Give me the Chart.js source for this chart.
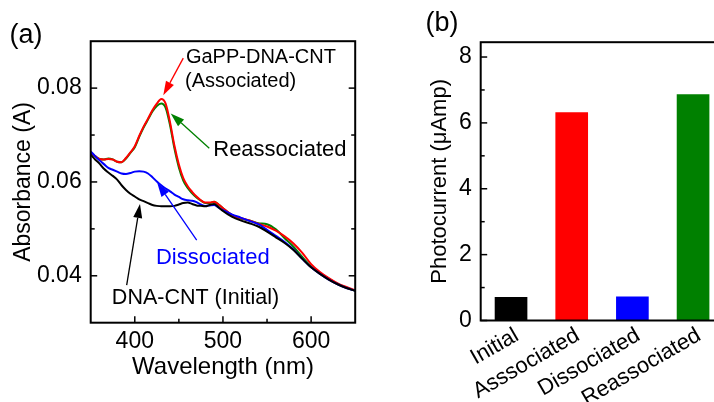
<!DOCTYPE html>
<html>
<head>
<meta charset="utf-8">
<script src="https://cdn.jsdelivr.net/npm/chart.js@4"></script>
<style>
  html, body { margin: 0; padding: 0; width: 714px; height: 402px; overflow: hidden; background: #fff; }
  #wrapA { position: absolute; left: 0; top: 0; width: 400px; height: 402px; }
  #wrapB { position: absolute; left: 400px; top: 0; width: 340px; height: 402px; }
  canvas { display: block; }
</style>
</head>
<body>
<div id="wrapA"><canvas id="absorb" width="400" height="402"></canvas></div>
<div id="wrapB"><canvas id="photo" width="340" height="402"></canvas></div>
<script>
// ---- (a) UV-vis absorbance spectra ----
const wavelength = [350, 355, 360, 365, 370, 375, 380, 385, 390, 395, 400, 405, 410, 415, 420, 425, 430, 435, 440, 445,
  450, 455, 460, 465, 470, 475, 480, 485, 490, 495, 500, 510, 520, 530, 540, 550, 560, 570, 580, 590,
  600, 610, 620, 630, 640, 650];

const initialAbs = [0.0658, 0.0648, 0.0639, 0.0628, 0.0620, 0.0613, 0.0605, 0.0593, 0.0583, 0.0575, 0.0569, 0.0563,
  0.0559, 0.0555, 0.0551, 0.0549, 0.0548, 0.0548, 0.0548, 0.0549, 0.0552, 0.0555, 0.0556, 0.0553, 0.0550, 0.0549,
  0.0548, 0.0551, 0.0553, 0.0546, 0.0538, 0.0526, 0.0518, 0.0512, 0.0505, 0.0494, 0.0482, 0.0470, 0.0455, 0.0436,
  0.0418, 0.0404, 0.0392, 0.0382, 0.0374, 0.0368];

const dissociatedAbs = [0.0665, 0.0655, 0.0646, 0.0638, 0.0630, 0.0626, 0.0622, 0.0618, 0.0617, 0.0619, 0.0622, 0.0623,
  0.0622, 0.0618, 0.0610, 0.0601, 0.0593, 0.0586, 0.0580, 0.0573, 0.0568, 0.0563, 0.0561, 0.0560, 0.0557, 0.0552,
  0.0549, 0.0550, 0.0551, 0.0545, 0.0540, 0.0531, 0.0524, 0.0517, 0.0510, 0.0498, 0.0485, 0.0472, 0.0456, 0.0436,
  0.0418, 0.0404, 0.0392, 0.0382, 0.0374, 0.0368];

const associatedAbs = [0.0662, 0.0655, 0.0649, 0.0648, 0.0649, 0.0648, 0.0643, 0.0642, 0.0651, 0.0663, 0.0676, 0.0698,
  0.0718, 0.0735, 0.0753, 0.0767, 0.0777, 0.0767, 0.0727, 0.0677, 0.0637, 0.0608, 0.0591, 0.0579, 0.0569, 0.0561,
  0.0556, 0.0556, 0.0558, 0.0552, 0.0544, 0.0530, 0.0523, 0.0518, 0.0511, 0.0505, 0.0496, 0.0484, 0.0469, 0.0449,
  0.0425, 0.0408, 0.0395, 0.0384, 0.0376, 0.0369];

const reassociatedAbs = [0.0661, 0.0655, 0.0649, 0.0648, 0.0650, 0.0648, 0.0643, 0.0642, 0.0650, 0.0662, 0.0674, 0.0696,
  0.0716, 0.0733, 0.0750, 0.0762, 0.0767, 0.0758, 0.0721, 0.0671, 0.0631, 0.0603, 0.0587, 0.0576, 0.0567, 0.0560,
  0.0555, 0.0555, 0.0558, 0.0552, 0.0544, 0.0530, 0.0522, 0.0518, 0.0512, 0.0510, 0.0499, 0.0480, 0.0462, 0.0440,
  0.0420, 0.0406, 0.0394, 0.0383, 0.0375, 0.0368];

const wavelengthTicks = [400, 500, 600];
const absorbanceTicks = [0.04, 0.06, 0.08];

// ---- (b) photocurrent per state ----
const sampleStates = ['Initial', 'Asssociated', 'Dissociated', 'Reassociated'];
const photocurrent = [0.70, 6.31, 0.72, 6.86];
const stateColors = ['#000000', '#FF0000', '#0000FF', '#008000'];
const currentTicks = [0, 2, 4, 6, 8];

const FONT = '"Liberation Sans", Arial, Helvetica, sans-serif';
Chart.defaults.font.family = FONT;
Chart.defaults.color = '#000';
Chart.defaults.animation = false;

// Box frame plus inward major/minor tick marks
const frameTicks = {
  id: 'frameTicks',
  afterDraw(chart, args, opts) {
    const { ctx, chartArea: a } = chart;
    ctx.save();
    ctx.strokeStyle = '#000';
    ctx.lineWidth = 1.5;
    for (const spec of opts.marks || []) {
      const scale = chart.scales[spec.scale];
      const major = scale.ticks.map(t => t.value);
      const minor = [];
      for (let i = 0; i < major.length - 1; i++) minor.push((major[i] + major[i + 1]) / 2);
      const draw = (vals, len) => {
        for (const v of vals) {
          const p = scale.getPixelForValue(v);
          for (const side of spec.sides) {
            ctx.beginPath();
            if (side === 'left') { ctx.moveTo(a.left, p); ctx.lineTo(a.left + len, p); }
            if (side === 'right') { ctx.moveTo(a.right, p); ctx.lineTo(a.right - len, p); }
            if (side === 'bottom') { ctx.moveTo(p, a.bottom); ctx.lineTo(p, a.bottom - len); }
            ctx.stroke();
          }
        }
      };
      draw(major, 6.5);
      draw(minor, 4);
    }
    ctx.lineWidth = 2;
    ctx.strokeRect(a.left, a.top, a.right - a.left, a.bottom - a.top);
    ctx.restore();
  }
};

// Panel letters, arrows and curve labels
const callouts = {
  id: 'callouts',
  afterDraw(chart, args, opts) {
    const { ctx } = chart;
    ctx.save();
    if (opts.tag) {
      ctx.font = `27px ${FONT}`;
      ctx.fillStyle = '#000';
      ctx.textAlign = 'center';
      ctx.textBaseline = 'middle';
      ctx.fillText(opts.tag.text, opts.tag.x, opts.tag.y);
    }
    const xs = chart.scales.x, ys = chart.scales.y;
    const px = p => [xs.getPixelForValue(p[0]), ys.getPixelForValue(p[1])];
    for (const ar of opts.arrows || []) {
      const [x0, y0] = px(ar.from), [x1, y1] = px(ar.to);
      const ang = Math.atan2(y1 - y0, x1 - x0);
      const L = 14, W = 4.5;
      const bx = x1 - L * Math.cos(ang), by = y1 - L * Math.sin(ang);
      ctx.strokeStyle = ar.color;
      ctx.fillStyle = ar.color;
      ctx.lineWidth = 1.3;
      ctx.beginPath(); ctx.moveTo(x0, y0); ctx.lineTo(bx, by); ctx.stroke();
      ctx.beginPath();
      ctx.moveTo(x1, y1);
      ctx.lineTo(bx + W * Math.sin(ang), by - W * Math.cos(ang));
      ctx.lineTo(bx - W * Math.sin(ang), by + W * Math.cos(ang));
      ctx.closePath(); ctx.fill();
    }
    for (const n of opts.labels || []) {
      const [x, y] = px(n.at);
      ctx.font = `${n.size}px ${FONT}`;
      ctx.fillStyle = n.color;
      ctx.textAlign = 'left';
      ctx.textBaseline = 'middle';
      ctx.fillText(n.text, x, y);
    }
    ctx.restore();
  }
};

const toPoints = arr => wavelength.map((w, i) => ({ x: w, y: arr[i] }));
const spectrum = (label, arr, color) => ({
  label, data: toPoints(arr), borderColor: color, backgroundColor: color,
  borderWidth: 2, pointRadius: 0, cubicInterpolationMode: 'monotone', fill: false
});

new Chart(document.getElementById('absorb'), {
  type: 'line',
  data: {
    datasets: [
      spectrum('DNA-CNT (Initial)', initialAbs, '#000000'),
      spectrum('Dissociated', dissociatedAbs, '#0000FF'),
      spectrum('GaPP-DNA-CNT (Associated)', associatedAbs, '#FF0000'),
      spectrum('Reassociated', reassociatedAbs, '#008000')
    ]
  },
  options: {
    responsive: false,
    animation: false,
    layout: { padding: { top: 41.2, right: 44.8, left: 0, bottom: 0 } },
    plugins: {
      legend: { display: false },
      tooltip: { enabled: false },
      frameTicks: { marks: [{ scale: 'y', sides: ['left', 'right'] }, { scale: 'x', sides: ['bottom'] }] },
      callouts: {
        tag: { text: '(a)', x: 26, y: 36 },
        arrows: [
          { color: '#FF0000', from: [455, 0.0864], to: [432.3, 0.0785] },
          { color: '#008000', from: [484.5, 0.0672], to: [440.7, 0.0746] },
          { color: '#0000FF', from: [470.2, 0.0476], to: [425.5, 0.0598] },
          { color: '#000000', from: [390.8, 0.0380], to: [405.9, 0.0553] }
        ],
        labels: [
          { text: 'GaPP-DNA-CNT', at: [458, 0.0866], color: '#000', size: 20 },
          { text: '(Associated)', at: [457, 0.0814], color: '#000', size: 20 },
          { text: 'Reassociated', at: [489, 0.0668], color: '#000', size: 22 },
          { text: 'Dissociated', at: [424, 0.0439], color: '#0000FF', size: 22 },
          { text: 'DNA-CNT (Initial)', at: [374, 0.0352], color: '#000', size: 21.5 }
        ]
      }
    },
    scales: {
      x: {
        type: 'linear', min: 350, max: 650,
        grid: { display: false, drawTicks: false }, border: { display: false },
        afterBuildTicks: s => { s.ticks = wavelengthTicks.map(v => ({ value: v })); },
        afterFit: s => { s.height = 402 - 322.7; },
        ticks: { font: { size: 23 }, padding: 5, maxRotation: 0, autoSkip: false },
        title: { display: true, text: 'Wavelength (nm)', font: { size: 24 }, padding: { top: 0, bottom: 20.5 } }
      },
      y: {
        type: 'linear', min: 0.03, max: 0.09,
        grid: { display: false, drawTicks: false }, border: { display: false },
        afterBuildTicks: s => { s.ticks = absorbanceTicks.map(v => ({ value: v })); },
        afterFit: s => { s.width = 90.7; },
        ticks: { font: { size: 23 }, padding: 9, callback: v => v.toFixed(2) },
        title: { display: true, text: 'Absorbance (A)', font: { size: 23 }, padding: { top: 10, bottom: 0 } }
      }
    }
  },
  plugins: [frameTicks, callouts]
});

new Chart(document.getElementById('photo'), {
  type: 'bar',
  data: {
    labels: sampleStates,
    datasets: [{ data: photocurrent, backgroundColor: stateColors, borderWidth: 0, barThickness: 32 }]
  },
  options: {
    responsive: false,
    animation: false,
    layout: { padding: { top: 42.2, right: 16.6, left: 0, bottom: 0 } },
    plugins: {
      legend: { display: false },
      tooltip: { enabled: false },
      frameTicks: { marks: [{ scale: 'y', sides: ['left'] }] },
      callouts: { tag: { text: '(b)', x: 42, y: 24 } }
    },
    scales: {
      x: {
        offset: true,
        grid: { display: false, drawTicks: false }, border: { display: false },
        afterFit: s => { s.height = 402 - 320.5; },
        ticks: { font: { size: 22 }, minRotation: 30, maxRotation: 30, autoSkip: false, padding: 2, labelOffset: 6 }
      },
      y: {
        min: 0, max: 8.45,
        grid: { display: false, drawTicks: false }, border: { display: false },
        afterBuildTicks: s => { s.ticks = currentTicks.map(v => ({ value: v })); },
        afterFit: s => { s.width = 80.7; },
        ticks: { font: { size: 23 }, padding: 9 },
        title: { display: true, text: 'Photocurrent (μAmp)', font: { size: 22 }, padding: { top: 26.8, bottom: 0 } }
      }
    }
  },
  plugins: [frameTicks, callouts]
});
</script>
</body>
</html>
